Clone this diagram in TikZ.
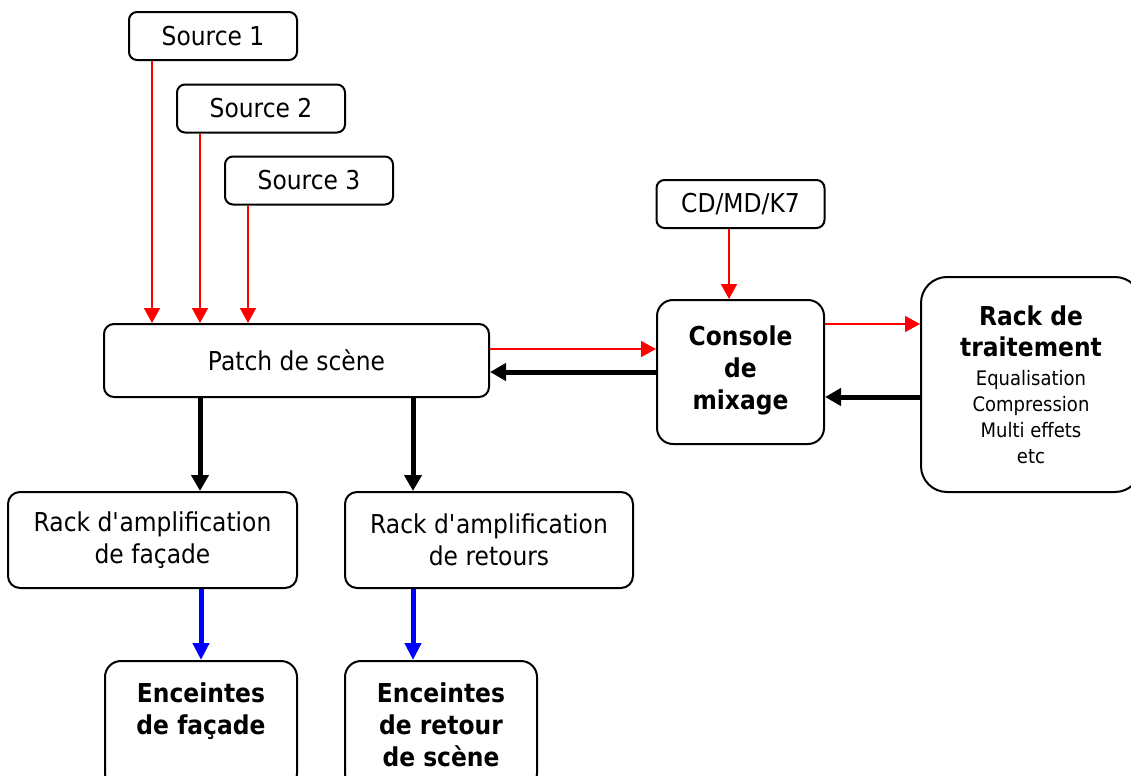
\documentclass[tikz,border=0pt]{standalone}
\usepackage{fontspec}
\setmainfont{DejaVu Sans}[FakeStretch=0.9]
\usetikzlibrary{arrows.meta,calc}
\definecolor{sigred}{RGB}{255,0,0}
\definecolor{spkblue}{RGB}{0,0,255}
\tikzset{
  unitbox/.style={
    draw=black,
    line width=1pt,
    align=center,
    inner sep=0pt,
    font=\fontsize{13}{16}\selectfont
  },
  srcbox/.style={
    unitbox,
    rounded corners=4pt,
    minimum width=84pt,
    minimum height=24pt
  },
  sigline/.style={
    draw=sigred,
    line width=0.8pt,
    -{Triangle[length=7.5pt,width=8pt]}
  },
  retline/.style={
    draw=black,
    line width=2.5pt,
    -{Triangle[length=8pt,width=8.5pt]}
  },
  spkline/.style={
    draw=spkblue,
    line width=2.5pt,
    -{Triangle[length=8.5pt,width=8pt]}
  }
}

\begin{document}
\begin{tikzpicture}[x=0.5pt,y=-0.5pt]
  \useasboundingbox (0,0) rectangle (1131,776);

  % Sources on stage, stepped down to the right.
  \node[srcbox] (src1) at (213,36) {Source 1};
  \node[srcbox] (src2) at (261,108.5) {Source 2};
  \node[srcbox] (src3) at (309,180.5) {Source 3};
  \node[srcbox] (cdmd) at (740.5,204) {CD/MD/K7};

  % Stage patch and mixing desk.
  \node[unitbox,rounded corners=5pt,minimum width=192.5pt,minimum height=36.5pt]
    (patch) at (296.5,360.5) {Patch de scène};
  \node[unitbox,rounded corners=8pt,minimum width=83.5pt,minimum height=72pt,
    font=\bfseries\fontsize{13}{16}\selectfont]
    (console) at (740.5,372) {Console\\de\\mixage\\[-12pt]};

  % Outboard processing rack, running past the right edge.
  \node[unitbox,rounded corners=13pt,minimum width=110pt,minimum height=107.5pt,
    font=\fontsize{10}{13}\selectfont]
    (rack) at (1031,384.5)
    {{\bfseries\fontsize{13}{16}\selectfont Rack de}\\[2.5pt]
     {\bfseries\fontsize{13}{16}\selectfont traitement}\\[1.5pt]
     Equalisation\\Compression\\Multi effets\\etc};

  % Amplifier racks.
  \node[unitbox,rounded corners=6pt,minimum width=144.5pt,minimum height=48pt]
    (ampfac) at (152.5,540) {Rack d\textquotesingle amplification\\de façade};
  \node[unitbox,rounded corners=6pt,minimum width=144pt,minimum height=48pt]
    (ampret) at (489,540) {Rack d\textquotesingle amplification\\de retours};

  % Loudspeakers, cut by the lower edge.
  \node[unitbox,rounded corners=8pt,minimum width=96pt,minimum height=64pt,
    font=\bfseries\fontsize{13}{16}\selectfont]
    (encfac) at (201,725) {Enceintes\\de façade\\~};
  \node[unitbox,rounded corners=8pt,minimum width=96pt,minimum height=64pt,
    font=\bfseries\fontsize{13}{16}\selectfont]
    (encret) at (441,725) {Enceintes\\de retour\\de scène};

  % Line signals into the patch.
  \coordinate (s1out) at ($(src1.south west)+(24,0)$);
  \coordinate (s2out) at ($(src2.south west)+(24,0)$);
  \coordinate (s3out) at ($(src3.south west)+(24,0)$);
  \draw[sigline] (s1out) -- (s1out |- patch.north);
  \draw[sigline] (s2out) -- (s2out |- patch.north);
  \draw[sigline] (s3out) -- (s3out |- patch.north);

  \coordinate (cdout) at ($(cdmd.south)+(-11.5,0)$);
  \draw[sigline] (cdout) -- (cdout |- console.north);

  % Patch <-> console, console <-> rack.
  \coordinate (patchout) at ($(patch.east)+(0,-11.5)$);
  \draw[sigline] (patchout) -- (patchout -| console.west);
  \draw[retline] (console.west) -- (console.west -| patch.east);
  \coordinate (sendout) at ($(console.east)+(0,-48)$);
  \draw[sigline] (sendout) -- (sendout -| rack.west);
  \coordinate (rackout) at ($(rack.west)+(0,12.5)$);
  \draw[retline] (rackout) -- (rackout -| console.east);

  % Patch to amplifiers.
  \coordinate (facout) at ($(patch.south west)+(97,0)$);
  \coordinate (retout) at ($(patch.south west)+(310,0)$);
  \draw[retline] (facout) -- (facout |- ampfac.north);
  \draw[retline] (retout) -- (retout |- ampret.north);

  % Amplifiers to loudspeakers.
  \draw[spkline] (encfac.north |- ampfac.south) -- (encfac.north);
  \coordinate (spkret) at (retout |- ampret.south);
  \draw[spkline] (spkret) -- (spkret |- encret.north);

\end{tikzpicture}
\end{document}
